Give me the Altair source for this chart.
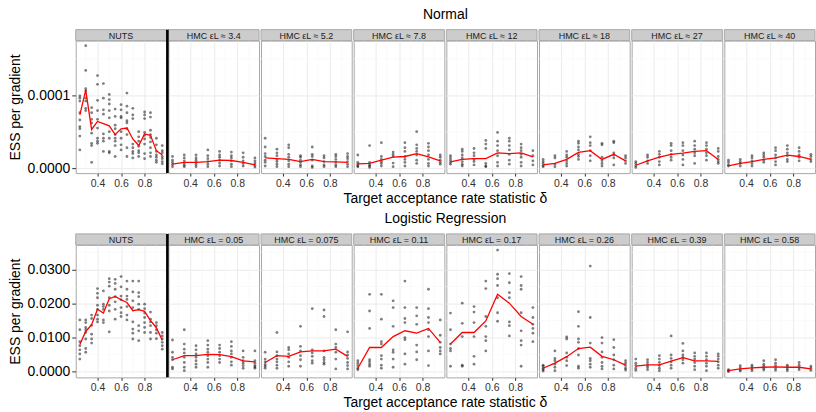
import altair as alt
import pandas as pd

FONT = "Liberation Sans"
PW, PH, STRIP, GAP = 91, 133, 11, 2
BORDER = "#A8A8A8"
STRIP_FILL = "#CCCCCC"
GRID_MAJOR = "#EBEBEB"
GRID_MINOR = "#F6F6F6"

X_DOMAIN = [0.215, 0.985]
X_MAJOR = [0.4, 0.6, 0.8]
X_MINOR = [0.3, 0.5, 0.7, 0.9]
X_TITLE = "Target acceptance rate statistic δ"

DELTA_NUTS = [0.25, 0.30, 0.35, 0.40, 0.45, 0.50, 0.55, 0.60,
              0.65, 0.70, 0.75, 0.80, 0.85, 0.90, 0.95]
DELTA_HMC = [0.25, 0.35, 0.45, 0.55, 0.65, 0.75, 0.85, 0.95]

# ---------------- Normal model (ESS per gradient, units of 1e-5) ----------------
NORMAL_UNIT = 1e-5
normal_labels = ["NUTS", "HMC εL ≈ 3.4", "HMC εL ≈ 5.2", "HMC εL ≈ 7.8",
                 "HMC εL ≈ 12", "HMC εL ≈ 18", "HMC εL ≈ 27", "HMC εL ≈ 40"]

normal_nuts_runs = [
    [9.9, 9.6, 9.2, 7.6, 6.6, 5.7, 5.4, 4.4, 2.5],
    [16.8, 13.4, 10.9, 10.6, 9.6, 9.2, 8.2, 7.9],
    [8.3, 7.6, 6.7, 6.2, 4.8, 3.4, 3.1, 0.8],
    [12.7, 11.5, 9.3, 7.9, 6.7, 5.5, 4.1, 3.7, 3.4],
    [11.6, 9.6, 8.0, 7.4, 4.7, 4.1, 3.7, 2.3],
    [10.1, 9.4, 8.8, 7.9, 6.9, 5.0, 4.1, 2.3, 2.1],
    [8.1, 7.1, 5.9, 5.4, 4.6, 4.1, 3.7, 3.1, 1.6],
    [8.7, 8.0, 7.1, 6.9, 5.0, 4.1, 3.2, 2.5],
    [10.3, 8.5, 7.6, 6.5, 6.2, 5.4, 4.6, 2.8, 1.6],
    [8.2, 7.3, 6.8, 3.3, 2.8, 2.3, 2.0, 1.4],
    [5.0, 4.3, 3.7, 3.0, 2.4, 2.1, 1.6],
    [7.7, 7.3, 6.8, 4.9, 4.5, 4.0, 3.3, 2.0, 1.3],
    [7.6, 7.0, 5.2, 4.6, 4.2, 3.6, 2.8, 2.1, 1.6],
    [4.1, 3.2, 2.3, 1.8, 1.5, 1.1, 0.8],
    [3.1, 2.4, 2.1, 1.6, 1.3, 0.9, 0.6],
]
normal_nuts_mean = [7.3, 10.7, 5.3, 6.4, 6.1, 5.8, 4.6, 5.4, 5.5, 4.0, 3.1, 4.7, 4.5, 2.4, 1.8]

normal_hmc34_runs = [
    [1.6, 1.1, 0.8, 0.5, 0.2], [1.8, 1.4, 1.0, 0.7, 0.4, 0.2],
    [1.8, 1.4, 1.1, 0.8, 0.5, 0.2], [2.5, 1.7, 1.3, 0.9, 0.55, 0.2],
    [2.3, 1.8, 1.5, 1.1, 0.7, 0.3], [2.2, 1.7, 1.4, 1.0, 0.55, 0.2],
    [2.1, 1.5, 1.0, 0.65, 0.3], [1.4, 1.0, 0.7, 0.4, 0.15],
]
normal_hmc34_mean = [0.55, 0.8, 0.8, 0.9, 1.1, 1.05, 0.8, 0.45]

normal_hmc52_runs = [
    [4.1, 2.9, 2.0, 1.6, 1.1, 0.8, 0.3], [2.6, 2.1, 1.7, 1.2, 0.9, 0.55, 0.2],
    [3.2, 2.8, 1.9, 1.5, 1.0, 0.55, 0.2], [1.7, 1.5, 1.1, 0.8, 0.45, 0.2],
    [2.9, 1.9, 1.6, 1.1, 0.3, 0.1], [1.7, 1.4, 0.9, 0.45, 0.2],
    [1.9, 1.6, 1.2, 0.8, 0.45, 0.2], [2.0, 1.6, 1.3, 0.9, 0.55, 0.2],
]
normal_hmc52_mean = [1.4, 1.3, 1.2, 0.9, 1.2, 0.9, 0.85, 0.8]

normal_hmc78_runs = [
    [1.8, 0.8, 0.55, 0.3, 0.2], [3.1, 0.8, 0.45, 0.3, 0.1],
    [3.5, 1.6, 1.2, 0.9, 0.65, 0.3], [2.2, 1.9, 1.6, 0.7, 0.2],
    [3.5, 2.8, 2.3, 1.6, 1.2, 0.8, 0.3], [5.0, 3.2, 2.7, 2.3, 1.8, 1.1, 0.65],
    [3.4, 2.9, 2.4, 1.8, 1.2, 0.65, 0.3], [1.8, 1.5, 1.1, 0.8, 0.55],
]
normal_hmc78_mean = [0.6, 0.65, 1.1, 1.5, 1.6, 2.0, 1.55, 1.0]

normal_hmc12_runs = [
    [1.7, 1.4, 1.1, 0.8, 0.55], [2.6, 2.3, 1.8, 1.4, 0.9, 0.55, 0.3],
    [2.7, 2.1, 1.7, 1.2, 0.9, 0.45], [3.8, 3.3, 2.7, 0.65, 0.3, 0.2],
    [4.9, 3.7, 3.1, 2.4, 1.7, 0.8, 0.3], [4.1, 3.7, 3.1, 2.5, 1.9, 1.1, 0.55],
    [3.3, 2.8, 2.4, 1.9, 1.5, 0.8, 0.3], [2.4, 1.7, 1.0, 0.45],
]
normal_hmc12_mean = [0.85, 1.2, 1.3, 1.3, 2.1, 2.0, 2.1, 1.55]

normal_hmc18_runs = [
    [1.2, 0.9, 0.65, 0.35, 0.2], [1.7, 1.4, 0.55, 0.2],
    [2.3, 1.8, 1.5, 1.0, 0.65, 0.3], [3.7, 3.4, 2.9, 2.5, 1.9, 1.6, 1.2],
    [4.3, 3.5, 3.1, 2.4, 1.7, 1.0], [3.4, 3.2, 1.5, 1.0, 0.65, 0.3],
    [3.7, 3.5, 2.1, 1.8, 1.4, 0.45], [1.7, 1.4, 1.0, 0.65],
]
normal_hmc18_mean = [0.45, 0.65, 1.2, 2.15, 2.4, 1.2, 1.9, 1.0]

normal_hmc27_runs = [
    [0.9, 0.65, 0.35, 0.1], [1.8, 1.5, 1.0, 0.65],
    [2.3, 1.9, 1.5, 0.9, 0.45], [3.4, 3.1, 2.4, 1.9, 1.5, 1.1],
    [3.5, 3.1, 2.4, 1.8, 1.2, 0.45], [3.7, 3.1, 2.6, 2.1, 1.7, 0.65],
    [3.5, 3.1, 2.6, 2.1, 1.7, 1.1], [2.7, 2.3, 1.6, 1.2, 0.9, 0.65],
]
normal_hmc27_mean = [0.4, 1.0, 1.5, 1.9, 2.05, 2.3, 2.4, 1.2]

normal_hmc40_runs = [
    [1.1, 0.8, 0.45, 0.3], [1.2, 0.9, 0.65, 0.3],
    [1.7, 1.4, 1.0, 0.65, 0.3], [2.1, 1.8, 1.5, 1.1, 0.8],
    [2.8, 2.4, 1.8, 1.4, 0.9, 0.45], [3.1, 2.6, 2.1, 1.7, 1.2, 0.9],
    [2.8, 2.3, 1.8, 1.5, 1.0], [1.9, 1.6, 1.2, 0.9],
]
normal_hmc40_mean = [0.3, 0.65, 0.9, 1.2, 1.4, 1.8, 1.6, 1.2]

# ------------- Logistic regression (ESS per gradient, units of 1e-3) -------------
LOGIT_UNIT = 1e-3
logit_labels = ["NUTS", "HMC εL = 0.05", "HMC εL = 0.075", "HMC εL = 0.11",
                "HMC εL = 0.17", "HMC εL = 0.26", "HMC εL = 0.39", "HMC εL = 0.58"]

logit_nuts_runs = [
    [15.2, 12.3, 8.8, 7.6, 6.4, 5.2, 3.7],
    [15.2, 14.4, 13.0, 12.3, 11.5, 9.6, 6.8, 5.7],
    [16.6, 15.6, 13.6, 11.0, 9.6, 8.4],
    [24.4, 23.0, 21.7, 19.5, 18.3, 16.6, 15.4, 14.6],
    [23.7, 19.8, 19.1, 18.3, 15.2, 14.4],
    [27.3, 26.3, 25.1, 21.7, 19.5, 17.8, 11.7],
    [27.1, 25.9, 24.2, 22.0, 20.5, 18.3, 15.4],
    [27.9, 24.9, 22.2, 21.1, 18.8, 17.3, 16.2],
    [26.6, 24.2, 22.2, 21.2, 19.1, 16.6, 15.2],
    [26.6, 23.4, 20.8, 18.8, 14.6, 12.5, 11.3, 9.6],
    [26.6, 23.2, 22.0, 19.8, 18.3, 13.5, 12.0, 9.1],
    [19.8, 18.5, 17.2, 15.9, 14.4, 13.0, 11.5],
    [17.5, 15.4, 14.6, 13.5, 11.5, 9.6],
    [14.4, 13.5, 12.3, 11.3, 9.7],
    [11.5, 10.5, 9.6, 8.6, 7.6, 6.6],
]
logit_nuts_mean = [8.0, 11.8, 13.8, 18.3, 17.2, 21.4, 22.1, 21.1, 20.3, 17.9, 18.2, 17.7, 15.0, 12.9, 9.2]

logit_hmc005_runs = [
    [9.3, 5.7, 4.2, 3.5, 1.3, 0.8], [12.3, 8.1, 6.6, 5.5, 4.2, 2.7, 1.3, 0.3],
    [7.6, 6.4, 5.2, 4.2, 3.2, 2.2, 1.3], [9.1, 7.8, 6.6, 5.7, 4.7, 3.7, 2.7, 1.3],
    [7.8, 6.8, 5.7, 4.7, 3.7, 2.7], [8.8, 7.4, 6.1, 5.2, 4.2, 2.9, 1.9],
    [6.1, 4.2, 3.2, 2.5, 1.8, 1.0], [6.1, 3.2, 2.5, 1.8, 1.4, 1.0],
]
logit_hmc005_mean = [3.5, 4.7, 4.7, 5.1, 5.0, 4.4, 3.2, 2.9]

logit_hmc0075_runs = [
    [5.7, 3.7, 2.9, 2.1, 1.6, 1.0], [11.5, 5.8, 4.7, 3.7, 2.9, 1.9, 1.0],
    [7.1, 6.4, 5.2, 4.2, 2.9, 1.6], [13.3, 7.4, 6.1, 4.7, 3.5, 1.6],
    [18.5, 6.4, 5.5, 4.5, 3.2, 2.5], [18.1, 16.2, 6.1, 4.2, 3.5, 2.7, 2.2],
    [12.3, 8.1, 7.1, 5.7, 3.7, 0.8], [11.7, 5.8, 4.9, 3.9, 2.7, 1.8, 0.8],
]
logit_hmc0075_mean = [2.7, 4.7, 4.5, 5.8, 6.1, 6.1, 6.6, 4.5]

logit_hmc011_runs = [
    [3.2, 2.5, 1.8, 1.0, 0.6], [22.7, 17.8, 12.7, 3.5, 2.9, 2.2, 1.6],
    [22.7, 15.4, 8.8, 8.1, 4.7, 3.7, 1.9, 1.0], [20.8, 18.8, 13.3, 6.4, 5.7, 3.7, 1.3],
    [26.6, 18.8, 15.6, 14.4, 10.0, 9.4, 5.2, 2.2], [18.8, 16.4, 13.9, 7.8, 5.8, 3.5],
    [24.2, 18.5, 15.9, 14.4, 12.3, 10.3, 6.1, 1.8], [15.2, 10.7, 8.6, 7.1, 6.1, 5.2],
]
logit_hmc011_mean = [1.0, 7.1, 7.1, 10.3, 12.0, 11.3, 12.7, 8.6]

logit_hmc017_runs = [
    [17.2, 12.3, 8.1, 6.8, 6.1, 1.6], [20.1, 14.2, 10.3, 1.9, 1.6],
    [19.1, 17.5, 14.4, 10.3, 4.5, 2.2], [26.6, 24.4, 16.2, 13.3, 10.3, 9.1, 6.1],
    [35.7, 28.6, 27.3, 25.3, 21.7, 17.3, 14.8], [28.8, 26.1, 23.2, 21.7, 14.6, 13.5, 10.5],
    [27.9, 25.3, 24.2, 17.3, 12.0, 9.1, 7.8, 1.6], [18.8, 15.9, 13.9, 12.7, 11.3, 8.8],
]
logit_hmc017_mean = [8.1, 11.5, 11.5, 14.9, 22.7, 20.1, 16.2, 13.9]

logit_hmc026_runs = [
    [1.9, 1.6, 1.0, 0.6, 0.2], [6.1, 3.9, 3.2, 2.2, 1.3, 0.3],
    [10.2, 9.6, 5.5, 4.2, 3.2, 1.8], [17.6, 13.3, 9.6, 8.6, 6.8, 4.9, 1.6, 1.0],
    [31.0, 15.9, 8.4, 3.9, 3.2, 2.2, 1.3], [10.0, 8.4, 5.8, 4.2, 2.7, 1.6, 0.8],
    [9.4, 7.1, 4.9, 3.5, 1.9, 0.8], [3.2, 2.5, 1.8, 1.0, 0.5],
]
logit_hmc026_mean = [1.0, 2.5, 4.4, 6.8, 7.2, 4.5, 3.5, 1.9]

logit_hmc039_runs = [
    [3.7, 2.5, 1.8, 1.0, 0.4], [3.5, 2.7, 1.9, 1.3, 0.6],
    [4.7, 3.7, 2.7, 1.8, 1.0, 0.3], [10.5, 4.9, 3.9, 2.9, 1.9, 1.0],
    [8.3, 6.1, 4.9, 4.2, 3.5, 2.5], [5.5, 4.5, 3.7, 2.7, 1.6, 0.6],
    [5.5, 4.5, 3.5, 2.5, 1.6, 0.3], [5.2, 4.5, 3.7, 2.9, 1.9, 1.0],
]
logit_hmc039_mean = [1.6, 2.0, 2.0, 3.1, 4.1, 3.2, 3.2, 3.0]

logit_hmc058_runs = [
    [0.6, 0.3, 0.0], [1.8, 1.2, 0.6, 0.2],
    [1.9, 1.4, 0.8, 0.3], [3.2, 2.2, 1.6, 1.0, 0.5],
    [3.5, 2.5, 1.8, 1.0, 0.4], [1.9, 1.4, 0.8, 0.3],
    [2.7, 1.9, 1.2, 0.6], [1.6, 1.0, 0.4],
]
logit_hmc058_mean = [0.3, 0.8, 1.1, 1.3, 1.4, 1.3, 1.3, 0.8]

# horizontal centre of a row of panels, measured from the first panel's left edge
ROW_CENTER = (8 * PW + 7 * GAP) / 2


def runs_frame(deltas, runs, unit):
    rows = []
    for d, vals in zip(deltas, runs):
        for v in vals:
            rows.append({"delta": d, "ess": v * unit})
    return pd.DataFrame(rows)


def make_panel(label, deltas, runs, means, unit, ydom, ymajor, yminor, first, divider):
    pts = runs_frame(deltas, runs, unit)
    avg = pd.DataFrame({"delta": deltas, "ess": [m * unit for m in means]})

    xs = alt.Scale(domain=X_DOMAIN, nice=False, zero=False)
    ys = alt.Scale(domain=ydom, nice=False, zero=False)
    xaxis = alt.Axis(values=X_MAJOR, format=".1f", grid=True, gridColor=GRID_MAJOR,
                     gridWidth=1, domain=False, tickSize=3, tickColor="#333333",
                     labelFontSize=10.5, labelColor="#333333", labelPadding=2,
                     title=None)
    if first:
        yaxis = alt.Axis(values=ymajor, format=".4f", grid=True, gridColor=GRID_MAJOR,
                         gridWidth=1, domain=False, tickSize=4, tickColor="#333333",
                         labelFontSize=14, labelColor="black", labelPadding=2,
                         title="ESS per gradient", titleFontSize=14,
                         titleFontWeight="normal", titleColor="black", titlePadding=5)
    else:
        yaxis = alt.Axis(values=ymajor, grid=True, gridColor=GRID_MAJOR, gridWidth=1,
                         domain=False, ticks=False, labels=False, title=None)

    def X(f):
        return alt.X(f"{f}:Q", scale=xs, axis=xaxis)

    def Y(f):
        return alt.Y(f"{f}:Q", scale=ys, axis=yaxis)

    minor_x = alt.Chart(pd.DataFrame({"delta": X_MINOR})).mark_rule(
        color=GRID_MINOR, strokeWidth=0.6).encode(x=X("delta"))
    minor_y = alt.Chart(pd.DataFrame({"ess": yminor})).mark_rule(
        color=GRID_MINOR, strokeWidth=0.6).encode(y=Y("ess"))
    dots = alt.Chart(pts).mark_circle(color="black", opacity=0.5, size=8).encode(
        x=X("delta"), y=Y("ess"))
    line = alt.Chart(avg).mark_line(color="#FF0000", strokeWidth=1.3).encode(
        x=X("delta"), y=Y("ess"))

    lab = pd.DataFrame({"label": [label]})
    strip_bg = alt.Chart(lab).mark_rect(fill=STRIP_FILL, stroke=BORDER, strokeWidth=1).encode(
        x=alt.value(0), x2=alt.value(PW), y=alt.value(-STRIP), y2=alt.value(0))
    strip_tx = alt.Chart(lab).mark_text(font=FONT, fontSize=9, color="#1A1A1A",
                                        baseline="middle").encode(
        x=alt.value(PW / 2), y=alt.value(-STRIP / 2 + 0.5), text="label:N")

    layers = [minor_x, minor_y, dots, line, strip_bg, strip_tx]
    if divider:
        layers.append(
            alt.Chart(lab).mark_rule(color="black", strokeWidth=2.6).encode(
                x=alt.value(-1), y=alt.value(-STRIP), y2=alt.value(PH)))
    return alt.layer(*layers).properties(width=PW, height=PH)


def make_row(title, labels, panel_specs, unit, ydom, ymajor, yminor):
    panels = []
    for i, (lab, (deltas, runs, means)) in enumerate(zip(labels, panel_specs)):
        panels.append(make_panel(lab, deltas, runs, means, unit, ydom, ymajor, yminor,
                                 first=(i == 0), divider=(i == 1)))
    body = alt.hconcat(*panels, spacing=GAP, bounds="flush",
                       title=alt.TitleParams(X_TITLE, orient="bottom", anchor="middle",
                                             frame="group", dx=ROW_CENTER, fontSize=14,
                                             fontWeight="normal", font=FONT,
                                             color="black", offset=3))
    return alt.vconcat(body, title=alt.TitleParams(title, anchor="middle", frame="group",
                                                   dx=ROW_CENTER, fontSize=14,
                                                   fontWeight="normal", font=FONT,
                                                   color="black", offset=6))


normal_specs = [
    (DELTA_NUTS, normal_nuts_runs, normal_nuts_mean),
    (DELTA_HMC, normal_hmc34_runs, normal_hmc34_mean),
    (DELTA_HMC, normal_hmc52_runs, normal_hmc52_mean),
    (DELTA_HMC, normal_hmc78_runs, normal_hmc78_mean),
    (DELTA_HMC, normal_hmc12_runs, normal_hmc12_mean),
    (DELTA_HMC, normal_hmc18_runs, normal_hmc18_mean),
    (DELTA_HMC, normal_hmc27_runs, normal_hmc27_mean),
    (DELTA_HMC, normal_hmc40_runs, normal_hmc40_mean),
]
logit_specs = [
    (DELTA_NUTS, logit_nuts_runs, logit_nuts_mean),
    (DELTA_HMC, logit_hmc005_runs, logit_hmc005_mean),
    (DELTA_HMC, logit_hmc0075_runs, logit_hmc0075_mean),
    (DELTA_HMC, logit_hmc011_runs, logit_hmc011_mean),
    (DELTA_HMC, logit_hmc017_runs, logit_hmc017_mean),
    (DELTA_HMC, logit_hmc026_runs, logit_hmc026_mean),
    (DELTA_HMC, logit_hmc039_runs, logit_hmc039_mean),
    (DELTA_HMC, logit_hmc058_runs, logit_hmc058_mean),
]

row_normal = make_row("Normal", normal_labels, normal_specs, NORMAL_UNIT,
                      [-0.0000068, 0.0001749], [0.0, 0.0001], [0.00005, 0.00015])
row_logit = make_row("Logistic Regression", logit_labels, logit_specs, LOGIT_UNIT,
                     [-0.00167, 0.03722], [0.0, 0.01, 0.02, 0.03],
                     [0.005, 0.015, 0.025, 0.035])

chart = alt.vconcat(row_normal, row_logit, spacing=6).properties(
    padding={"left": 7, "top": 7, "right": 0, "bottom": 0}
).configure_view(stroke=BORDER, strokeWidth=1).configure_axis(
    labelFont=FONT, titleFont=FONT
).configure_title(font=FONT)

chart.save("out.html", embed_options={"renderer": "svg", "actions": False})
